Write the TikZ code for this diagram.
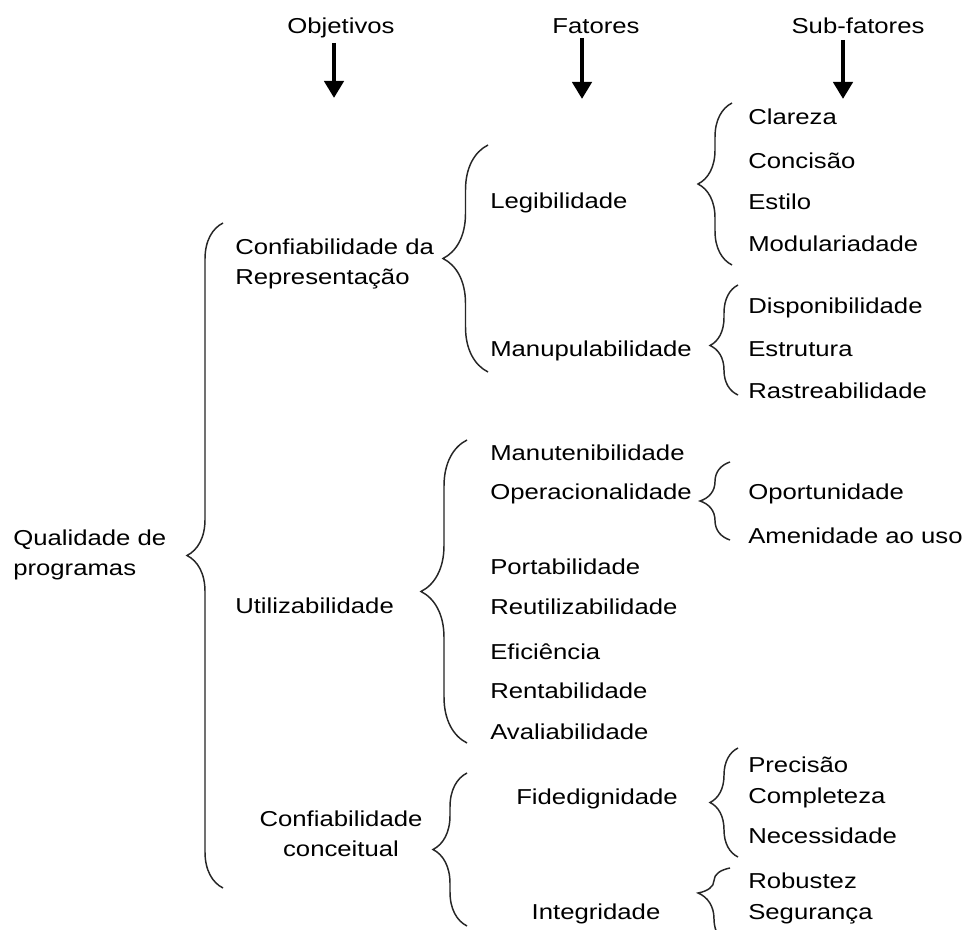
\documentclass[tikz,border=0pt]{standalone}
\usepackage{fontspec}
\setmainfont{Liberation Sans}[FakeStretch=1.19]
\usetikzlibrary{arrows.meta,decorations.pathreplacing}

\tikzset{
    item/.style={inner sep=0pt, anchor=west, text height=1em, text depth=0pt},
    head/.style={inner sep=0pt, text height=1em, text depth=0pt},
    twoline/.style={inner sep=0pt, anchor=west, align=left},
    downarrow/.style={line width=3.4pt, -{Triangle[width=14.25pt,length=12.75pt]}},
    brc/.style 2 args={decorate, decoration={brace, amplitude=#1, aspect=#2},
        line width=1.1pt, draw=black!85}
}

\begin{document}
\begin{tikzpicture}[x=0.75pt, y=-0.75pt, font=\fontsize{16.2}{22.9}\selectfont]

    \useasboundingbox (0,0) rectangle (966,930);
    \fill[white] (0,0) rectangle (966,930);

    \node[head] (objetivos) at (341,27) {Objetivos};
    \node[head] (fatores) at (596,27) {Fatores};
    \node[head] (subfatores) at (858,27) {Sub-fatores};

    \coordinate (objTop) at (334,43);
    \coordinate (objTip) at (334,98);
    \coordinate (fatTop) at (582,38);
    \coordinate (fatTip) at (582,99);
    \coordinate (subTop) at (843,40);
    \coordinate (subTip) at (843,99);

    \draw[downarrow] (objTop) -- (objTip);
    \draw[downarrow] (fatTop) -- (fatTip);
    \draw[downarrow] (subTop) -- (subTip);

    \node[twoline] (qualidade) at (13,555) {Qualidade de\\programas};

    \node[twoline] (confRep) at (235,264) {Confiabilidade da\\Representação};
    \node[item] (utiliz) at (235,607) {Utilizabilidade};
    \node[inner sep=0pt, align=center] (confConc) at (341,834) {Confiabilidade\\conceitual};

    \node[item] (legib) at (490,202) {Legibilidade};
    \node[item] (manup) at (490,350) {Manupulabilidade};
    \node[item] (manut) at (490,454) {Manutenibilidade};
    \node[item] (operac) at (490,493) {Operacionalidade};
    \node[item] (portab) at (490,568) {Portabilidade};
    \node[item] (reutil) at (490,608) {Reutilizabilidade};
    \node[item] (efic) at (490,653) {Eficiência};
    \node[item] (rentab) at (490,692) {Rentabilidade};
    \node[item] (avalia) at (490,733) {Avaliabilidade};
    \node[head] (fidedig) at (597,798) {Fidedignidade};
    \node[head] (integr) at (596,913) {Integridade};

    \node[item] (clareza) at (748,118) {Clareza};
    \node[item] (concisao) at (748,162) {Concisão};
    \node[item] (estilo) at (748,203) {Estilo};
    \node[item] (modular) at (748,245) {Modulariadade};
    \node[item] (dispon) at (748,307) {Disponibilidade};
    \node[item] (estrut) at (748,350) {Estrutura};
    \node[item] (rastre) at (748,392) {Rastreabilidade};
    \node[item] (oport) at (748,493) {Oportunidade};
    \node[item] (amenid) at (748,537) {Amenidade ao uso};
    \node[item] (precisao) at (748,766) {Precisão};
    \node[item] (complet) at (748,797) {Completeza};
    \node[item] (necess) at (748,837) {Necessidade};
    \node[item] (robust) at (748,882) {Robustez};
    \node[item] (seguran) at (748,913) {Segurança};

    \coordinate (qualTop) at (223,223);
    \coordinate (qualBot) at (223,888);
    \coordinate (repTop) at (488,145);
    \coordinate (repBot) at (488,372);
    \coordinate (utilTop) at (467,440);
    \coordinate (utilBot) at (467,743);
    \coordinate (concTop) at (467,773);
    \coordinate (concBot) at (467,926);
    \coordinate (legTop) at (732,103);
    \coordinate (legBot) at (732,265);
    \coordinate (manTop) at (738,285);
    \coordinate (manBot) at (738,395);
    \coordinate (opTop) at (730,462);
    \coordinate (opBot) at (730,540);
    \coordinate (fidTop) at (738,748);
    \coordinate (fidBot) at (738,857);
    \coordinate (intTop) at (730,868);
    \coordinate (intBot) at (730,945);

    \draw[brc={27pt}{0.5}] (qualBot) -- (qualTop);
    \draw[brc={33.75pt}{0.5}] (repBot) -- (repTop);
    \draw[brc={34.5pt}{0.5}] (utilBot) -- (utilTop);
    \draw[brc={25.5pt}{0.5}] (concBot) -- (concTop);
    \draw[brc={25.5pt}{0.5}] (legBot) -- (legTop);
    \draw[brc={21pt}{0.45}] (manBot) -- (manTop);
    \draw[brc={22.5pt}{0.5}] (opBot) -- (opTop);
    \draw[brc={21pt}{0.5}] (fidBot) -- (fidTop);
    \draw[brc={24pt}{0.675}] (intBot) -- (intTop);
\end{tikzpicture}
\end{document}
